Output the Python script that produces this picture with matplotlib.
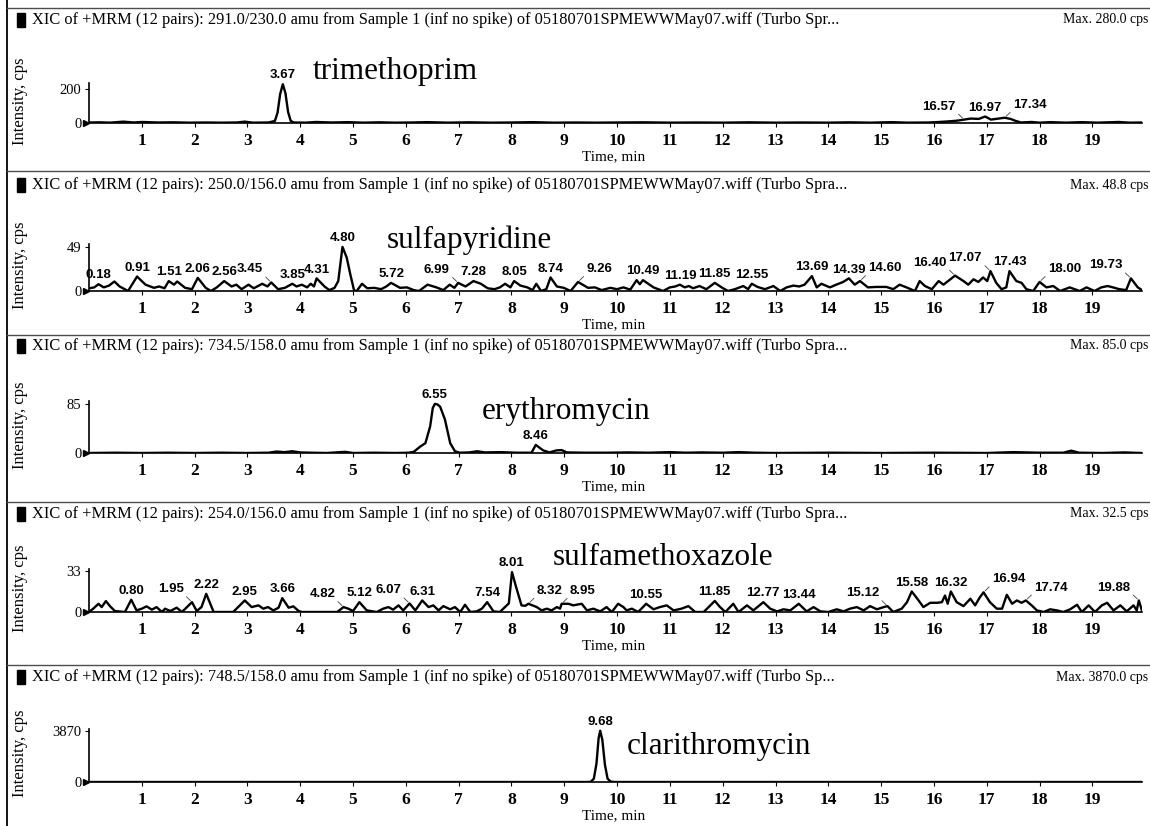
import numpy as np
import matplotlib
matplotlib.use("Agg")
import matplotlib.pyplot as plt
from matplotlib import font_manager
from matplotlib.patches import Rectangle
from matplotlib.lines import Line2D
from matplotlib.transforms import offset_copy

# ---------------------------------------------------------------- data
compounds = ["trimethoprim", "sulfapyridine", "erythromycin",
             "sulfamethoxazole", "clarithromycin"]
transitions = ["291.0/230.0", "250.0/156.0", "734.5/158.0",
               "254.0/156.0", "748.5/158.0"]
header_tails = ["(Turbo Spr...", "(Turbo Spra...", "(Turbo Spra...",
                "(Turbo Spra...", "(Turbo Sp..."]
max_cps = ["280.0", "48.8", "85.0", "32.5", "3870.0"]
ytick_values = [200, 49, 85, 33, 3870]
x_ticks = list(range(1, 20))

trimethoprim_time = [0.00, 0.20, 0.40, 0.65, 0.85, 1.00, 1.30, 1.60, 1.90, 2.20,
                     2.50, 2.80, 2.95, 3.10, 3.40, 3.52, 3.57, 3.62, 3.67, 3.72,
                     3.77, 3.82, 3.88, 4.10, 4.30, 4.60, 4.90, 5.20, 5.50, 5.80,
                     6.10, 6.40, 6.80, 7.20, 7.60, 8.00, 8.40, 8.80, 9.20, 9.60,
                     10.00, 10.50, 11.00, 11.50, 12.00, 12.50, 13.00, 13.50, 14.00, 14.40,
                     14.80, 15.20, 15.50, 15.90, 16.10, 16.30, 16.45, 16.57, 16.70, 16.85,
                     16.97, 17.08, 17.20, 17.34, 17.45, 17.55, 17.65, 17.85, 18.00, 18.20,
                     18.50, 18.80, 19.10, 19.50, 19.70, 19.94]
trimethoprim_cps = [3, 4, 2, 8, 3, 6, 3, 4, 2, 3,
                    2, 3, 8, 2, 3, 12, 60, 170, 228, 175,
                    65, 12, 3, 2, 6, 3, 5, 2, 4, 2,
                    3, 5, 2, 4, 2, 3, 5, 2, 3, 2,
                    3, 4, 2, 3, 2, 4, 2, 3, 2, 4,
                    2, 5, 2, 3, 6, 10, 14, 20, 26, 24,
                    38, 20, 25, 31, 24, 12, 3, 6, 2, 5,
                    2, 5, 2, 6, 2, 3]
trimethoprim_peaks = [(3.67, "c"), (16.57, "l"), (16.97, "c"), (17.34, "r")]

sulfapyridine_time = [0.00, 0.10, 0.18, 0.28, 0.38, 0.48, 0.58, 0.74, 0.91, 1.07,
                      1.23, 1.33, 1.43, 1.51, 1.61, 1.67, 1.82, 1.95, 2.06, 2.21,
                      2.31, 2.42, 2.56, 2.70, 2.79, 2.89, 3.02, 3.12, 3.28, 3.38,
                      3.45, 3.58, 3.71, 3.85, 3.93, 4.03, 4.13, 4.20, 4.26, 4.31,
                      4.46, 4.55, 4.65, 4.72, 4.80, 4.88, 4.95, 5.02, 5.07, 5.17,
                      5.27, 5.40, 5.53, 5.63, 5.72, 5.89, 6.02, 6.15, 6.25, 6.41,
                      6.58, 6.71, 6.83, 6.92, 6.99, 7.13, 7.28, 7.42, 7.55, 7.68,
                      7.78, 7.88, 7.98, 8.05, 8.17, 8.30, 8.40, 8.47, 8.56, 8.66,
                      8.74, 8.86, 8.99, 9.12, 9.26, 9.45, 9.58, 9.71, 9.87, 10.00,
                      10.12, 10.25, 10.37, 10.43, 10.49, 10.69, 10.87, 11.00, 11.10, 11.19,
                      11.28, 11.36, 11.44, 11.56, 11.69, 11.85, 11.98, 12.10, 12.23, 12.39,
                      12.48, 12.55, 12.66, 12.80, 12.96, 13.09, 13.21, 13.34, 13.45, 13.55,
                      13.69, 13.78, 13.87, 14.03, 14.15, 14.28, 14.39, 14.50, 14.60, 14.75,
                      14.91, 15.10, 15.23, 15.35, 15.48, 15.64, 15.73, 15.83, 15.96, 16.09,
                      16.18, 16.31, 16.40, 16.56, 16.65, 16.75, 16.84, 16.93, 17.01, 17.07,
                      17.18, 17.28, 17.37, 17.43, 17.56, 17.66, 17.75, 17.88, 18.00, 18.13,
                      18.26, 18.39, 18.57, 18.76, 18.89, 19.04, 19.17, 19.29, 19.39, 19.51,
                      19.64, 19.73, 19.86, 19.94]
sulfapyridine_cps = [3, 4, 7.5, 4, 6, 10.5, 5, 0, 16, 7,
                     3.5, 5, 3, 11, 7, 10.5, 3.5, 2, 14.5, 3.5,
                     0, 4, 11, 5, 7, 2, 7, 3, 8, 5,
                     9.5, 2, 3.5, 8, 5, 7, 4, 8, 5, 14,
                     5, 1, 3.5, 11, 48.8, 37, 18, 0.5, 0, 8,
                     3, 3.5, 2, 5, 9, 3.5, 4, 1, 0, 7,
                     4, 1, 7, 3.5, 9, 5, 11, 8, 3, 2,
                     4, 8, 4, 11, 6, 4, 1, 8, 0, 2,
                     15, 5, 3.5, 0, 10, 3.5, 4, 1, 3.5, 2,
                     4, 1.5, 12, 7.5, 12, 4, 0, 4, 5, 7,
                     4, 5.5, 3, 5.5, 2, 9, 4, 0, 2, 5.5,
                     2, 8, 4.5, 2, 5.5, 0, 4, 6, 5, 7,
                     16.5, 4, 8, 4, 7, 10, 14, 7, 11, 4,
                     4.5, 4.5, 2, 7, 4, 0, 11, 5.5, 2, 11,
                     7, 13, 17, 11, 7, 13, 10, 15, 11, 22,
                     9, 2, 4, 22, 11, 9, 2, 0, 10, 4,
                     5.5, 0, 4, 0, 4, 0, 4, 5.5, 4, 2,
                     1, 14, 4, 1]
sulfapyridine_peaks = [(0.18, "c"), (0.91, "c"), (1.51, "c"), (2.06, "c"), (2.56, "c"),
                       (3.45, "l"), (3.85, "c"), (4.31, "c"), (4.80, "c"), (5.72, "c"),
                       (6.99, "l"), (7.28, "c"), (8.05, "c"), (8.74, "c"), (9.26, "r"),
                       (10.49, "c"), (11.19, "c"), (11.85, "c"), (12.55, "c"), (13.69, "c"),
                       (14.39, "c"), (14.60, "r"), (16.40, "l"), (17.07, "l"), (17.43, "c"),
                       (18.00, "r"), (19.73, "l")]

erythromycin_time = [0.00, 0.50, 1.00, 1.50, 2.00, 2.50, 3.00, 3.40, 3.55, 3.70,
                     3.85, 4.00, 4.20, 4.50, 4.85, 5.00, 5.40, 5.80, 6.05, 6.15,
                     6.27, 6.37, 6.46, 6.51, 6.55, 6.60, 6.65, 6.74, 6.84, 6.93,
                     7.02, 7.20, 7.35, 7.50, 7.80, 8.10, 8.38, 8.46, 8.60, 8.72,
                     8.85, 8.95, 9.05, 9.40, 9.80, 10.20, 10.60, 11.00, 11.30, 11.60,
                     12.00, 12.30, 12.60, 13.00, 14.00, 15.00, 16.00, 17.00, 17.50, 18.00,
                     18.45, 18.60, 18.75, 19.20, 19.60, 19.94]
erythromycin_cps = [0, 0.5, 0, 0.5, 0, 0.5, 0, 0.5, 2.5, 1.5,
                    3, 1, 0.5, 0, 2, 0, 0.5, 0, 0.5, 2,
                    11, 17, 46, 78, 85, 84, 80, 58, 17, 3,
                    0.5, 1, 3, 1, 1.5, 0.5, 0.5, 14, 4.5, 1,
                    4.5, 5, 1, 0.5, 0.5, 1, 0.5, 1.5, 0.5, 1,
                    0.5, 1.5, 0.5, 0, 0.5, 0, 0.5, 0, 1.5, 0.5,
                    0.5, 4, 0.5, 0, 1, 0]
erythromycin_peaks = [(6.55, "c"), (8.46, "c")]

sulfamethoxazole_time = [0.00, 0.08, 0.18, 0.24, 0.32, 0.40, 0.49, 0.68, 0.80, 0.90,
                         1.00, 1.09, 1.19, 1.28, 1.38, 1.44, 1.54, 1.66, 1.76, 1.95,
                         2.04, 2.13, 2.22, 2.36, 2.73, 2.95, 3.08, 3.21, 3.30, 3.39,
                         3.49, 3.59, 3.66, 3.78, 3.87, 3.97, 4.03, 4.70, 4.82, 4.91,
                         5.00, 5.12, 5.26, 5.45, 5.57, 5.67, 5.76, 5.86, 5.95, 6.07,
                         6.18, 6.31, 6.43, 6.52, 6.62, 6.71, 6.84, 6.93, 7.03, 7.12,
                         7.22, 7.34, 7.44, 7.54, 7.66, 7.78, 7.91, 7.95, 8.01, 8.09,
                         8.19, 8.26, 8.32, 8.48, 8.57, 8.67, 8.76, 8.86, 8.92, 8.95,
                         9.08, 9.17, 9.33, 9.43, 9.55, 9.68, 9.80, 9.90, 10.02, 10.12,
                         10.18, 10.28, 10.40, 10.55, 10.69, 10.81, 10.94, 11.07, 11.22, 11.35,
                         11.48, 11.64, 11.85, 11.95, 12.05, 12.11, 12.20, 12.30, 12.46, 12.58,
                         12.77, 12.90, 13.03, 13.15, 13.28, 13.44, 13.59, 13.72, 13.85, 14.00,
                         14.16, 14.29, 14.41, 14.54, 14.67, 14.79, 14.92, 15.05, 15.12, 15.23,
                         15.39, 15.49, 15.58, 15.71, 15.80, 15.93, 16.06, 16.15, 16.21, 16.26,
                         16.32, 16.43, 16.56, 16.69, 16.78, 16.87, 16.94, 17.06, 17.19, 17.29,
                         17.38, 17.48, 17.57, 17.66, 17.74, 17.85, 17.95, 18.08, 18.20, 18.33,
                         18.45, 18.58, 18.71, 18.80, 18.93, 19.05, 19.18, 19.28, 19.40, 19.53,
                         19.65, 19.78, 19.84, 19.88, 19.94]
sulfamethoxazole_cps = [0, 2.7, 6.7, 4, 8.9, 4.6, 0.8, 0, 10, 1.3,
                        2.7, 4.6, 1.9, 4, 0, 2.7, 0.8, 3.5, 0, 8,
                        0.8, 4, 14.8, 0, 0, 9.4, 4, 5.4, 2.7, 4,
                        1.3, 3.5, 11.3, 3.5, 4.6, 0.8, 0, 0, 4, 2.7,
                        0.8, 8, 1.3, 0, 2.7, 4, 1.9, 5.4, 1.3, 7,
                        1.3, 9.4, 4, 5.4, 1.3, 4.8, 2.2, 4, 0, 5.9,
                        0, 0.5, 2.7, 8, 0.5, 0, 5.4, 7, 32.5, 20,
                        5.4, 5, 6.7, 4, 1.3, 2.7, 1.3, 4, 2.7, 6.7,
                        6.7, 5.4, 6.7, 1.3, 2.7, 0.5, 4, 0, 6.7, 4,
                        1.3, 2.7, 0, 6.7, 2.2, 4, 5.4, 1.3, 2.7, 4.8,
                        0, 0, 9, 4, 0, 2.7, 6.7, 0, 5.4, 1.3,
                        8, 2.7, 0.5, 2.2, 1.3, 6.7, 0.5, 4, 0.5, 0,
                        2.2, 0.5, 2.7, 4, 1.3, 4.8, 2.2, 4, 4.8, 0,
                        2.7, 8, 16.7, 9.4, 4, 7.5, 7.5, 8, 13.4, 6.7,
                        16.7, 8, 4.8, 10.8, 5.4, 12, 16, 8, 2.7, 2.7,
                        14, 6.7, 9.4, 7.5, 9.4, 5.4, 1.3, 0, 2.2, 1.3,
                        0, 2.2, 5.9, 0, 5.4, 0, 5.4, 7.5, 1.3, 5.4,
                        0.5, 5.4, 1.3, 9.4, 1]
sulfamethoxazole_peaks = [(0.80, "c"), (1.95, "l"), (2.22, "c"), (2.95, "c"), (3.66, "c"),
                          (4.82, "l"), (5.12, "c"), (6.07, "l"), (6.31, "c"), (7.54, "c"),
                          (8.01, "c"), (8.32, "r"), (8.95, "r"), (10.55, "c"), (11.85, "c"),
                          (12.77, "c"), (13.44, "c"), (15.12, "l"), (15.58, "c"), (16.32, "c"),
                          (16.94, "r"), (17.74, "r"), (19.88, "l")]

clarithromycin_time = [0.00, 5.00, 9.40, 9.50, 9.56, 9.61, 9.65, 9.68, 9.72, 9.77,
                       9.82, 9.88, 9.95, 15.00, 19.94]
clarithromycin_cps = [0, 0, 0, 10, 250, 1400, 3300, 3870, 3200, 1300,
                      250, 30, 0, 0, 0]
clarithromycin_peaks = [(9.68, "c")]

traces = [
    (trimethoprim_time, trimethoprim_cps, trimethoprim_peaks),
    (sulfapyridine_time, sulfapyridine_cps, sulfapyridine_peaks),
    (erythromycin_time, erythromycin_cps, erythromycin_peaks),
    (sulfamethoxazole_time, sulfamethoxazole_cps, sulfamethoxazole_peaks),
    (clarithromycin_time, clarithromycin_cps, clarithromycin_peaks),
]

# ---------------------------------------------------------------- layout (pixels)
W, H = 1150, 826
fig = plt.figure(figsize=(W / 100, H / 100), dpi=100)
fig.patch.set_facecolor("white")


def fx(px):
    return px / W


def fy(py):
    return 1 - py / H


available = {f.name for f in font_manager.fontManager.ttflist}
SERIF = "Liberation Serif"
LABEL_FONT = ("Liberation Sans Narrow" if "Liberation Sans Narrow" in available
              else "Liberation Sans")

sep_px = [8, 171, 335, 502, 665]
header_px = [20, 185, 346, 514, 677]
zero_px = [123, 291, 453, 612, 782]
top_px = [83, 244, 401, 569, 729]
ytop = [235, 52, 90, 35, 4000]
name_px = [(313, 79), (387, 248), (482, 419), (553, 565), (627, 754)]
X_LEFT, X_RIGHT = 89, 1142
T_END = 19.94

# frame: left border and panel separators
fig.add_artist(Line2D([fx(7), fx(7)], [0, 1], color="black", lw=1.3,
                      transform=fig.transFigure))
for s in sep_px:
    fig.add_artist(Line2D([fx(7), 1], [fy(s), fy(s)], color="0.3", lw=1.0,
                          transform=fig.transFigure))


def label_peak(ax, t, v, side):
    txt = f"{t:.2f}"
    kw = dict(fontsize=9.5, family=LABEL_FONT, fontweight="bold", color="black",
              textcoords="offset points", annotation_clip=False)
    if side == "c":
        ax.annotate(txt, xy=(t, v), xytext=(0, 2), ha="center", va="bottom", **kw)
    else:
        sign = -1 if side == "l" else 1
        ax.annotate(txt, xy=(t, v), xytext=(sign * 6, 5),
                    ha="right" if side == "l" else "left", va="bottom",
                    arrowprops=dict(arrowstyle="-", lw=0.6, color="0.25",
                                    shrinkA=0, shrinkB=1.5,
                                    relpos=(1, 0.1) if side == "l" else (0, 0.1)),
                    **kw)


for i, (times, cps, peaks) in enumerate(traces):
    ax = fig.add_axes([fx(X_LEFT), fy(zero_px[i]),
                       fx(X_RIGHT) - fx(X_LEFT), (zero_px[i] - top_px[i]) / H])
    ax.plot(times, cps, color="black", lw=1.7, solid_joinstyle="round")
    ax.set_xlim(0, T_END)
    ax.set_ylim(0, ytop[i])
    for side in ("top", "right"):
        ax.spines[side].set_visible(False)
    for side in ("left", "bottom"):
        ax.spines[side].set_linewidth(1.2)
    ax.set_xticks(x_ticks)
    ax.set_xticklabels([str(x) for x in x_ticks], family=SERIF, fontsize=12.5,
                       fontweight="bold")
    ax.set_yticks([0, ytick_values[i]])
    ax.set_yticklabels(["0", str(ytick_values[i])], family=SERIF, fontsize=10.5)
    ax.tick_params(axis="x", length=3, width=0.8, pad=4)
    ax.tick_params(axis="y", length=3, width=0.8, pad=2.5)
    ax.patch.set_alpha(0)

    # origin marker
    tr = offset_copy(ax.transData, fig=fig, x=-3, y=0, units="dots")
    ax.plot([0], [0], marker=">", ms=5, color="black", transform=tr, clip_on=False)

    for t, side in peaks:
        v = float(np.interp(t, times, cps))
        label_peak(ax, t, v, side)

    # header
    fig.add_artist(Rectangle((fx(17), fy(header_px[i] + 7)), 8 / W, 14 / H,
                             transform=fig.transFigure, color="black"))
    fig.text(fx(32), fy(header_px[i]),
             f"XIC of +MRM (12 pairs): {transitions[i]} amu from Sample 1 "
             f"(inf no spike) of 05180701SPMEWWMay07.wiff {header_tails[i]}",
             family=SERIF, fontsize=11.75, ha="left", va="center")
    fig.text(fx(1148), fy(header_px[i]), f"Max. {max_cps[i]} cps",
             family=SERIF, fontsize=10, ha="right", va="center")

    fig.text(fx(20), fy((zero_px[i] + top_px[i]) / 2 - 2), "Intensity, cps",
             family=SERIF, fontsize=12, rotation=90, ha="center", va="center")
    fig.text(fx(614), fy(zero_px[i] + 34), "Time, min",
             family=SERIF, fontsize=11, ha="center", va="center")
    nx, ny = name_px[i]
    fig.text(fx(nx), fy(ny), compounds[i], family=SERIF, fontsize=22.5,
             ha="left", va="baseline")

fig.savefig("out.png", dpi=100)
